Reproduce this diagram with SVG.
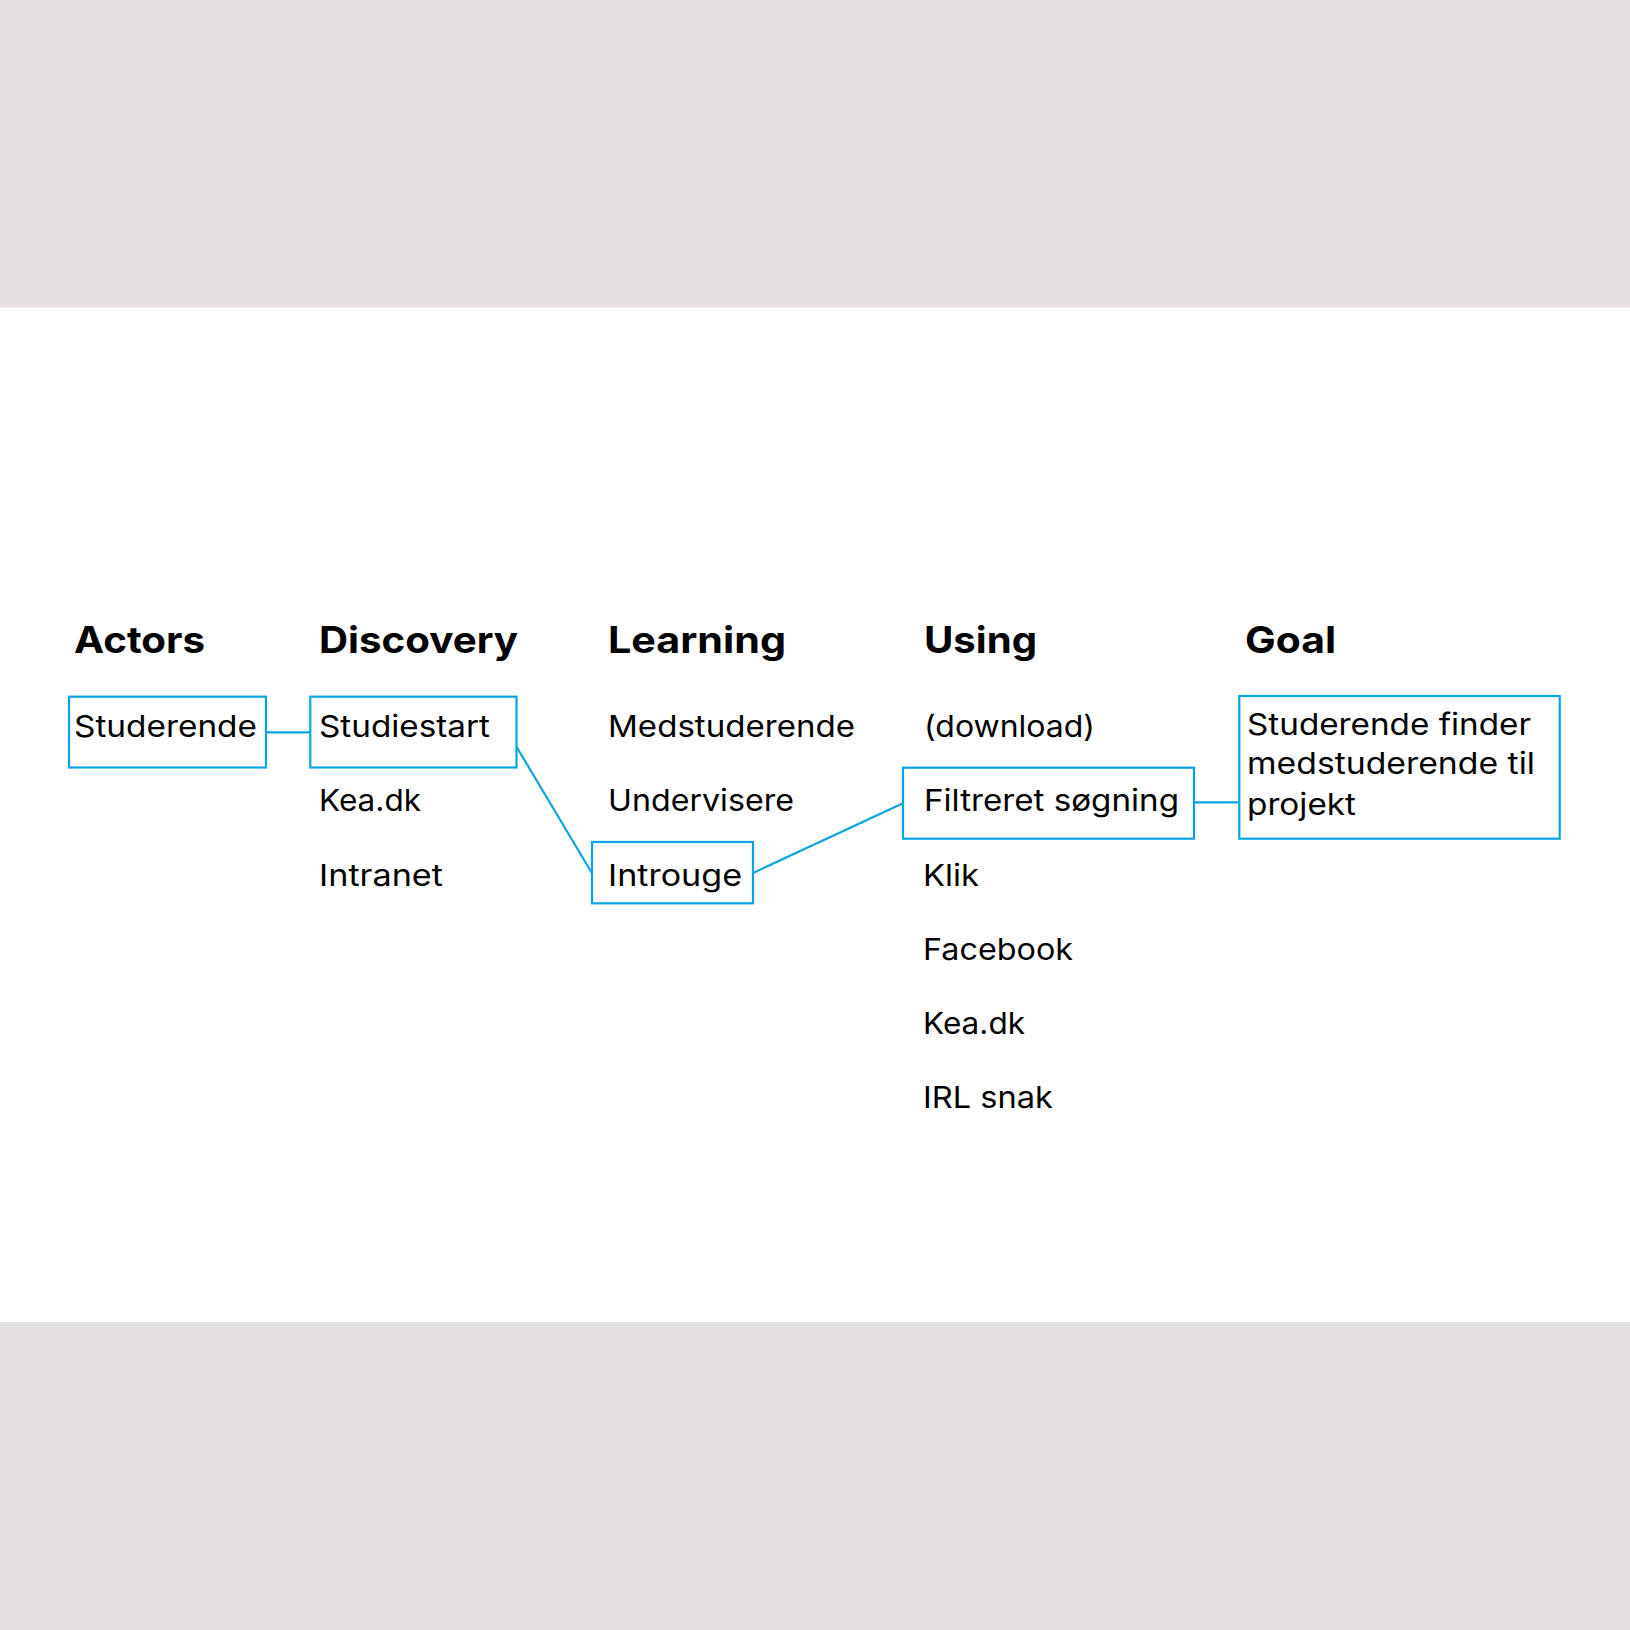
<svg xmlns="http://www.w3.org/2000/svg" width="1630" height="1630" viewBox="0 0 1630 1630">
<style>
.band{fill:#e5e1e0}
.box{fill:none;stroke:#0aa4e3;stroke-width:2.2}
.conn line{stroke:#0aa4e3;stroke-width:2.2;fill:none}
.h{font-family:Inter,"Noto Sans","Liberation Sans",sans-serif;font-weight:700;font-size:37px;fill:#000}
.t{font-family:Inter,"Noto Sans","Liberation Sans",sans-serif;font-weight:400;font-size:30px;fill:#000}
</style>
<rect width="1630" height="1630" fill="#ffffff"/>
<rect class="band" x="0" y="0" width="1630" height="307.5"/>
<rect class="band" x="0" y="1322" width="1630" height="308"/>

<g id="headings">
<text class="h" x="74" y="653" textLength="131" lengthAdjust="spacingAndGlyphs">Actors</text>
<text class="h" x="319" y="653" textLength="199" lengthAdjust="spacingAndGlyphs">Discovery</text>
<text class="h" x="608" y="653" textLength="178" lengthAdjust="spacingAndGlyphs">Learning</text>
<text class="h" x="924" y="653" textLength="113" lengthAdjust="spacingAndGlyphs">Using</text>
<text class="h" x="1245" y="653" textLength="91" lengthAdjust="spacingAndGlyphs">Goal</text>
</g>

<g class="conn" id="connectors">
<line x1="266" y1="732.3" x2="310.3" y2="732.3"/>
<line x1="516.5" y1="746.7" x2="592" y2="873.3"/>
<line x1="753" y1="873" x2="903" y2="803.3"/>
<line x1="1194" y1="802.3" x2="1239.3" y2="802.3"/>
</g>

<g id="node-studerende">
<rect class="box" x="69" y="696.7" width="197" height="70.8"/>
<text class="t" x="74" y="736.7" textLength="183" lengthAdjust="spacingAndGlyphs">Studerende</text>
</g>

<g id="node-studiestart">
<rect class="box" x="310.3" y="696.7" width="206.2" height="70.8"/>
<text class="t" x="319" y="736.7" textLength="171" lengthAdjust="spacingAndGlyphs">Studiestart</text>
</g>
<g id="node-keadk-1"><text class="t" x="319" y="810.7" textLength="102" lengthAdjust="spacingAndGlyphs">Kea.dk</text></g>
<g id="node-intranet"><text class="t" x="319" y="886" textLength="124" lengthAdjust="spacingAndGlyphs">Intranet</text></g>

<g id="node-medstuderende"><text class="t" x="608" y="736.7" textLength="247" lengthAdjust="spacingAndGlyphs">Medstuderende</text></g>
<g id="node-undervisere"><text class="t" x="608" y="810.7" textLength="186" lengthAdjust="spacingAndGlyphs">Undervisere</text></g>
<g id="node-introuge">
<rect class="box" x="592" y="842" width="161" height="61.3"/>
<text class="t" x="608" y="886" textLength="134" lengthAdjust="spacingAndGlyphs">Introuge</text>
</g>

<g id="node-download"><text class="t" x="924" y="736.7" textLength="171" lengthAdjust="spacingAndGlyphs">(download)</text></g>
<g id="node-filtreret">
<rect class="box" x="903" y="767.7" width="291" height="71"/>
<text class="t" x="924" y="810.7" textLength="255" lengthAdjust="spacingAndGlyphs">Filtreret søgning</text>
</g>
<g id="node-klik"><text class="t" x="923" y="885.7" textLength="56" lengthAdjust="spacingAndGlyphs">Klik</text></g>
<g id="node-facebook"><text class="t" x="923" y="960" textLength="150" lengthAdjust="spacingAndGlyphs">Facebook</text></g>
<g id="node-keadk-2"><text class="t" x="923" y="1034.3" textLength="102" lengthAdjust="spacingAndGlyphs">Kea.dk</text></g>
<g id="node-irl"><text class="t" x="923" y="1108.3" textLength="130" lengthAdjust="spacingAndGlyphs">IRL snak</text></g>

<g id="node-goal">
<rect class="box" x="1239.3" y="696" width="320.4" height="142.7"/>
<text class="t" x="1247" y="735" textLength="284" lengthAdjust="spacingAndGlyphs">Studerende finder</text>
<text class="t" x="1247" y="774.3" textLength="288" lengthAdjust="spacingAndGlyphs">medstuderende til</text>
<text class="t" x="1247" y="815" textLength="109" lengthAdjust="spacingAndGlyphs">projekt</text>
</g>
</svg>
